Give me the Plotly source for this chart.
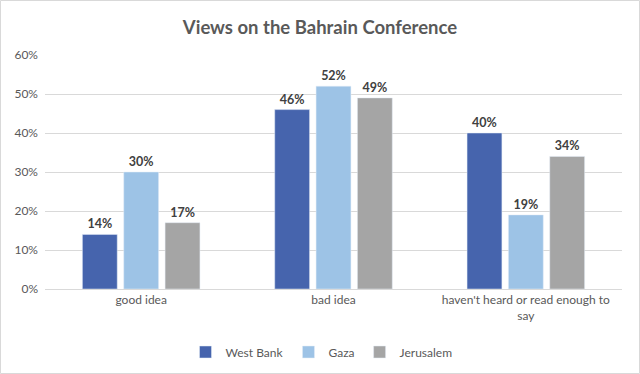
import plotly.graph_objects as go

categories = ["good idea", "bad idea", "haven't heard or read enough to<br>say"]
series_names = ["West Bank", "Gaza", "Jerusalem"]
west_bank = [14, 46, 40]
gaza = [30, 52, 19]
jerusalem = [17, 49, 34]
colors = ["#4664AD", "#9DC3E6", "#A5A5A5"]
y_ticks = [0, 10, 20, 30, 40, 50, 60]

FONT = "Lato, 'Open Sans', sans-serif"

fig = go.Figure()
for name, vals, col in zip(series_names, [west_bank, gaza, jerusalem], colors):
    fig.add_trace(go.Bar(
        x=categories, y=vals, name=name, marker_color=col,
        text=[f"{v}%" for v in vals], textposition="outside",
        textfont=dict(family=FONT, size=12.5, color="#404040", weight="bold"),
        cliponaxis=False,
    ))

L, R, T, B = 45, 18, 55, 85
W, H = 640, 374
pw, ph = W - L - R, H - T - B

fig.update_layout(
    width=W, height=H,
    margin=dict(l=L, r=R, t=T, b=B, autoexpand=False),
    paper_bgcolor="white", plot_bgcolor="white",
    barmode="group", bargap=0.355, bargroupgap=0.157,
    title=dict(text="<b>Views on the Bahrain Conference</b>", x=0.5, xanchor="center",
               y=1 - 28 / H, yanchor="middle",
               font=dict(family=FONT, size=18.5, color="#595959")),
    font=dict(family=FONT, size=12, color="#595959"),
    legend=dict(orientation="h", x=0.5 - 12 / pw, xanchor="center", y=-(352 - (T + ph)) / ph,
                yanchor="middle", font=dict(family=FONT, size=12, color="#595959"),
                itemwidth=30, traceorder="normal", tracegroupgap=0),
    yaxis=dict(range=[0, 60], tickvals=y_ticks, ticktext=[f"{v}%" for v in y_ticks],
               showgrid=True, gridcolor="#D9D9D9", gridwidth=1, zeroline=False,
               automargin=False, ticks="", ticklabelstandoff=6,
               tickfont=dict(family=FONT, size=12, color="#595959")),
    xaxis=dict(showline=True, linecolor="#D9D9D9", linewidth=1, ticks="",
               automargin=False,
               tickfont=dict(family=FONT, size=12, color="#595959")),
    showlegend=True,
)

fig.add_shape(type="rect", xref="paper", yref="paper",
              x0=(0.5 - L) / pw, x1=(W - 0.5 - L) / pw,
              y0=-(B - 0.5) / ph, y1=1 + (T - 0.5) / ph,
              line=dict(color="#D9D9D9", width=1), fillcolor="rgba(0,0,0,0)", layer="below")

fig.write_html("out.html", config={"displayModeBar": False},
               post_script="document.body.style.margin='0';document.body.style.overflow='hidden';")
